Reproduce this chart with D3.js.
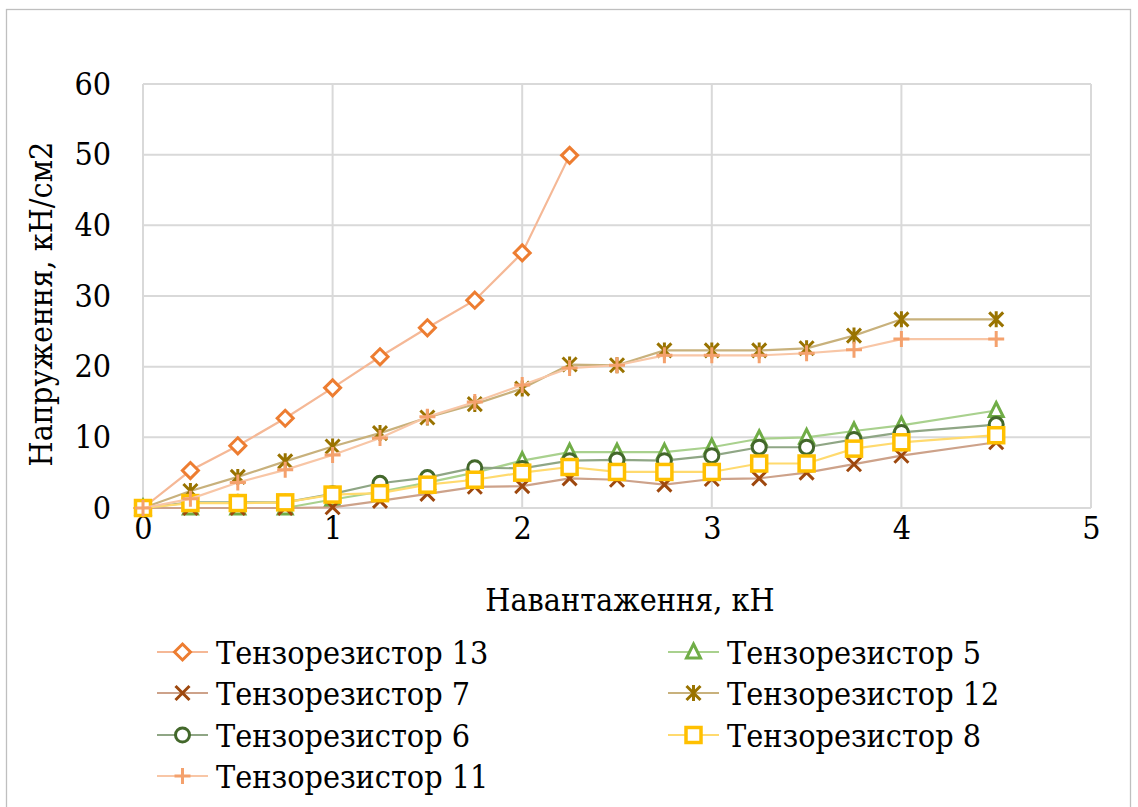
<!DOCTYPE html>
<html><head><meta charset="utf-8">
<script src="https://cdn.jsdelivr.net/npm/d3@7"></script>
<style>
html,body{margin:0;padding:0;background:#fff;}
svg text{font-family:"DejaVu Serif Condensed","DejaVu Serif",serif;font-stretch:condensed;fill:#000;}
</style></head>
<body><svg id="c" width="1138" height="807"></svg>
<script>
// ---- data ----
const loadShort = [0,0.25,0.5,0.75,1,1.25,1.5,1.75,2,2.25];
const loadFull = [0,0.25,0.5,0.75,1,1.25,1.5,1.75,2,2.25,2.5,2.75,3,3.25,3.5,3.75,4,4.5];
const s13 = [0,5.3,8.8,12.7,17.0,21.4,25.5,29.4,36.1,49.9];
const s5  = [0,0,0,0,1.2,2.3,3.6,5.0,6.7,7.9,7.9,7.9,8.6,9.8,10.0,10.9,11.7,13.8];
const s7  = [0,0,0,0,0.1,1.0,2.0,3.0,3.1,4.2,4.0,3.3,4.1,4.2,5.0,6.2,7.4,9.3];
const s12 = [0,2.4,4.4,6.6,8.7,10.6,12.8,14.7,16.9,20.3,20.2,22.3,22.3,22.3,22.6,24.4,26.7,26.7];
const s6  = [0,0.8,0.8,0.8,2.0,3.5,4.3,5.7,5.6,6.7,6.8,6.7,7.4,8.6,8.6,9.7,10.7,11.8];
const s8  = [0,0.7,0.7,0.8,1.9,2.1,3.3,4.0,5.0,5.8,5.1,5.1,5.1,6.3,6.3,8.4,9.3,10.3];
const s11 = [0,1.3,3.6,5.4,7.5,9.9,12.9,15.0,17.4,19.8,20.2,21.6,21.6,21.6,21.9,22.4,23.9,23.9];
const xTicks = [0,1,2,3,4,5];
const yTicks = [0,10,20,30,40,50,60];
const seriesNames = ["Тензорезистор 13","Тензорезистор 5","Тензорезистор 7","Тензорезистор 12","Тензорезистор 6","Тензорезистор 8","Тензорезистор 11"];
const xTitle = "Навантаження, кН";
const yTitle = "Напруження, кН/см2";

const series = [
  {name:seriesNames[0], x:loadShort, y:s13, marker:"diamond",  mc:"#ED7D31", lc:"#F5B896"},
  {name:seriesNames[1], x:loadFull,  y:s5,  marker:"triangle", mc:"#70AD47", lc:"#A9D18E"},
  {name:seriesNames[2], x:loadFull,  y:s7,  marker:"x",        mc:"#9E480E", lc:"#CDA28A"},
  {name:seriesNames[3], x:loadFull,  y:s12, marker:"star",     mc:"#997300", lc:"#C8B17C"},
  {name:seriesNames[4], x:loadFull,  y:s6,  marker:"circle",   mc:"#43682B", lc:"#8FA685"},
  {name:seriesNames[5], x:loadFull,  y:s8,  marker:"square",   mc:"#FFC000", lc:"#FFDA6E"},
  {name:seriesNames[6], x:loadFull,  y:s11, marker:"plus",     mc:"#F4A16D", lc:"#F8C6A6"}
];

const svg = d3.select("#c");
const FS = 32;
svg.append("rect").attr("x",6.5).attr("y",9.5).attr("width",1124).attr("height",830)
  .attr("fill","none").attr("stroke","#BFBFBF").attr("stroke-width",1.3);

const x = d3.scaleLinear().domain([0,5]).range([143,1091]);
const y = d3.scaleLinear().domain([0,60]).range([508,84]);

const g = svg.append("g");
g.selectAll("line.h").data(yTicks).join("line")
  .attr("x1",x(0)).attr("x2",x(5)).attr("y1",d=>y(d)).attr("y2",d=>y(d))
  .attr("stroke","#D9D9D9").attr("stroke-width",2);
g.selectAll("line.v").data(xTicks).join("line")
  .attr("y1",y(0)).attr("y2",y(60)).attr("x1",d=>x(d)).attr("x2",d=>x(d))
  .attr("stroke","#D9D9D9").attr("stroke-width",2);

const xAxis = svg.append("g").attr("transform",`translate(0,${y(0)})`)
  .call(d3.axisBottom(x).tickValues(xTicks).tickSize(0).tickPadding(8).tickFormat(d3.format("d")));
xAxis.select(".domain").remove();
xAxis.attr("font-family",null).attr("font-size",null);
xAxis.selectAll("text").style("font-size",FS+"px").attr("fill","#000");
const yAxis = svg.append("g").attr("transform",`translate(${x(0)},0)`)
  .call(d3.axisLeft(y).tickValues(yTicks).tickSize(0).tickPadding(32).tickFormat(d3.format("d")));
yAxis.select(".domain").remove();
yAxis.attr("font-family",null).attr("font-size",null);
yAxis.selectAll("text").style("font-size",FS+"px").attr("fill","#000");

svg.append("text").attr("x",630).attr("y",611).attr("text-anchor","middle")
  .style("font-size",FS+"px").text(xTitle);
svg.append("text").attr("transform","translate(52,304) rotate(-90)").attr("text-anchor","middle")
  .style("font-size",FS+"px").text(yTitle);

function drawMarker(sel, type, c){
  const sw = 3;
  if(type==="diamond"){
    sel.append("path").attr("d","M0,-8L8,0L0,8L-8,0Z").attr("fill","#fff").attr("stroke",c).attr("stroke-width",sw);
  } else if(type==="triangle"){
    sel.append("path").attr("d","M0,-8L7,6L-7,6Z").attr("fill","#fff").attr("stroke",c).attr("stroke-width",sw);
  } else if(type==="x"){
    sel.append("path").attr("d","M-7,-7L7,7M-7,7L7,-7").attr("stroke",c).attr("stroke-width",sw).attr("fill","none");
  } else if(type==="star"){
    sel.append("path").attr("d","M-7,-7L7,7M-7,7L7,-7M0,-8L0,8").attr("stroke",c).attr("stroke-width",sw).attr("fill","none");
  } else if(type==="circle"){
    sel.append("circle").attr("r",7).attr("fill","#fff").attr("stroke",c).attr("stroke-width",sw);
  } else if(type==="square"){
    sel.append("rect").attr("x",-7.5).attr("y",-7.5).attr("width",15).attr("height",15).attr("fill","#fff").attr("stroke",c).attr("stroke-width",3.5);
  } else if(type==="plus"){
    sel.append("path").attr("d","M-8,0L8,0M0,-8L0,8").attr("stroke",c).attr("stroke-width",sw).attr("fill","none");
  }
}

const line = d3.line().x(d=>x(d[0])).y(d=>y(d[1]));
series.forEach(s=>{
  const pts = s.x.map((v,i)=>[v,s.y[i]]);
  const gs = svg.append("g");
  gs.append("path").datum(pts).attr("d",line).attr("fill","none").attr("stroke",s.lc).attr("stroke-width",2.2);
  pts.forEach(p=>{
    const m = gs.append("g").attr("transform",`translate(${x(p[0])},${y(p[1])})`);
    drawMarker(m, s.marker, s.mc);
  });
});

const legCols = [157, 668];
const legRows = [652, 693, 735, 776];
series.forEach((s,i)=>{
  const col = i%2, row = Math.floor(i/2);
  const lx = legCols[col], ly = legRows[row];
  const lg = svg.append("g");
  lg.append("line").attr("x1",lx).attr("x2",lx+51).attr("y1",ly).attr("y2",ly).attr("stroke",s.lc).attr("stroke-width",2.2);
  const m = lg.append("g").attr("transform",`translate(${lx+25.5},${ly})`);
  drawMarker(m, s.marker, s.mc);
  lg.append("text").attr("x",lx+59).attr("y",ly).attr("dy","0.36em").style("font-size",FS+"px").text(s.name);
});
</script></body></html>
